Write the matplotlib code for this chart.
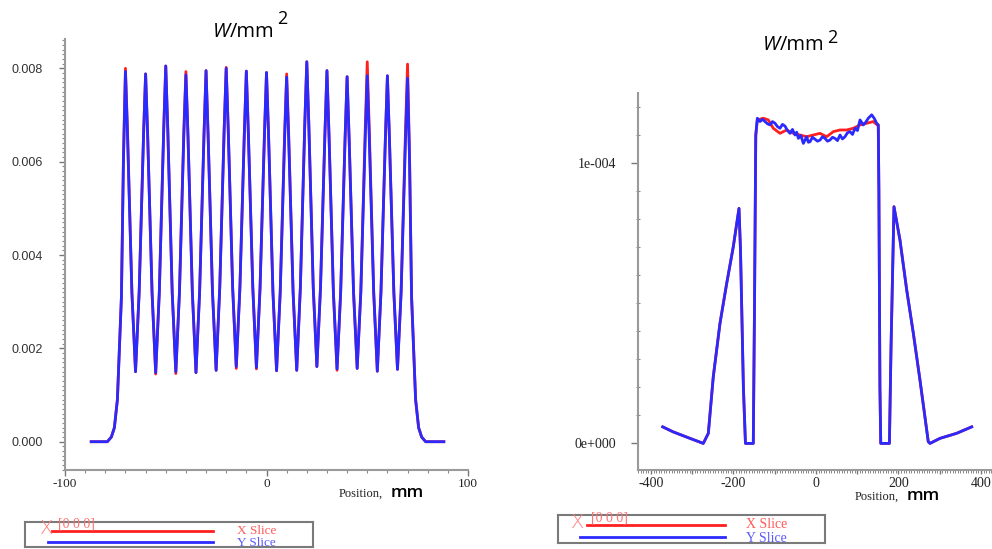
import matplotlib
matplotlib.use("Agg")
import matplotlib.pyplot as plt
from matplotlib.ticker import MultipleLocator, FixedLocator, FuncFormatter
from matplotlib.lines import Line2D

plt.rcParams['axes.unicode_minus'] = False

# ---------------- Left chart data (Position mm, W/mm^2) ----------------
left_x = [-87, -79, -77, -75.5, -74, -73, -72, -71,
          -70, -69, -66.8, -65, -63.2, -61,
          -60, -59, -56.8, -55, -53.2, -51,
          -50, -49, -46.8, -45, -43.2, -41,
          -40, -39, -36.8, -35, -33.2, -31,
          -30, -29, -26.8, -25, -23.2, -21,
          -20, -19, -16.8, -15, -13.2, -11,
          -10, -9, -6.8, -5, -3.2, -1,
          0, 1, 3.2, 5, 6.8, 9,
          10, 11, 13.2, 15, 16.8, 19,
          20, 21, 23.2, 25, 26.8, 29,
          30, 31, 33.2, 35, 36.8, 39,
          40, 41, 43.2, 45, 46.8, 49,
          50, 51, 53.2, 55, 56.8, 59,
          60, 61, 63.2, 65, 66.8, 69,
          70, 71, 72, 73, 74, 75.5, 77, 79, 88]

left_y_slice = [0, 0, 0.0001, 0.0003, 0.0009, 0.0020, 0.0031, 0.0060,
                0.00793, 0.0066, 0.0032, 0.00150, 0.0032, 0.0066,
                0.00788, 0.0066, 0.0032, 0.00148, 0.0032, 0.0067,
                0.00805, 0.0067, 0.0032, 0.00150, 0.0032, 0.0066,
                0.00786, 0.0066, 0.0032, 0.00148, 0.0032, 0.0066,
                0.00795, 0.0066, 0.0032, 0.00153, 0.0033, 0.0067,
                0.00800, 0.0067, 0.0033, 0.00161, 0.0033, 0.0066,
                0.00794, 0.0066, 0.0033, 0.00159, 0.0033, 0.0066,
                0.00791, 0.0066, 0.0032, 0.00152, 0.0032, 0.0065,
                0.00781, 0.0065, 0.0032, 0.00153, 0.0033, 0.0068,
                0.00814, 0.0068, 0.0033, 0.00161, 0.0033, 0.0066,
                0.00795, 0.0066, 0.0032, 0.00156, 0.0032, 0.0065,
                0.00782, 0.0065, 0.0032, 0.00157, 0.0032, 0.0065,
                0.00784, 0.0065, 0.0032, 0.00151, 0.0032, 0.0065,
                0.00784, 0.0065, 0.0032, 0.00155, 0.0032, 0.0065,
                0.00779, 0.0060, 0.0031, 0.0020, 0.0009, 0.0003, 0.0001, 0, 0]

left_x_slice = [0, 0, 0.0001, 0.0003, 0.0009, 0.0020, 0.0031, 0.0061,
                0.00800, 0.0067, 0.0032, 0.00150, 0.0032, 0.0066,
                0.00788, 0.0066, 0.0032, 0.00145, 0.0032, 0.0067,
                0.00805, 0.0067, 0.0032, 0.00146, 0.0032, 0.0067,
                0.00793, 0.0066, 0.0032, 0.00148, 0.0032, 0.0066,
                0.00795, 0.0066, 0.0032, 0.00153, 0.0033, 0.0067,
                0.00802, 0.0067, 0.0033, 0.00157, 0.0033, 0.0066,
                0.00794, 0.0066, 0.0033, 0.00156, 0.0033, 0.0066,
                0.00791, 0.0066, 0.0032, 0.00152, 0.0032, 0.0066,
                0.00788, 0.0066, 0.0032, 0.00153, 0.0033, 0.0068,
                0.00814, 0.0068, 0.0033, 0.00161, 0.0033, 0.0066,
                0.00795, 0.0066, 0.0032, 0.00153, 0.0032, 0.0065,
                0.00782, 0.0065, 0.0032, 0.00157, 0.0032, 0.0067,
                0.00814, 0.0067, 0.0032, 0.00151, 0.0032, 0.0065,
                0.00784, 0.0065, 0.0032, 0.00155, 0.0032, 0.0067,
                0.00809, 0.0061, 0.0031, 0.0020, 0.0009, 0.0003, 0.0001, 0, 0]

# ---------------- Right chart data (Position mm, W/mm^2) ----------------
right_outer_left_x = [-371.6, -346, -305.5, -273.2, -261, -249, -232.7, -216.5,
                      -200.5, -186.7, -183, -176, -171, -152, -149, -146]
right_outer_left_y = [5.9e-6, 4.1e-6, 1.8e-6, 0, 3.6e-6, 2.38e-5, 4.29e-5, 5.71e-5,
                      7.02e-5, 8.39e-5, 6.9e-5, 2.0e-5, 0, 0, 5.0e-5, 1.10e-4]

right_outer_right_x = [152.5, 155, 157, 178, 182, 189.1, 203.6, 219.9, 236,
                       252.1, 272.2, 276.4, 300.6, 341, 377.5]
right_outer_right_y = [9.0e-5, 2.0e-5, 0, 0, 3.5e-5, 8.45e-5, 7.26e-5, 5.48e-5, 3.93e-5,
                       2.26e-5, 0.6e-6, 0, 1.8e-6, 3.6e-6, 5.9e-6]

plateau_y_x = [-142.2, -135.8, -129.7, -123.6, -117.5, -111.5, -105.5, -99.4, -93.4,
               -87.3, -81.3, -75.2, -69.1, -63, -57, -50.9, -46.8, -42.8, -36.7,
               -30.7, -26.6, -22.6, -18.5, -14.5, -8.5, -2.4, 3.6, 9.7, 15.8, 21.8,
               27.8, 33.9, 40, 46.1, 52.1, 58.2, 64.2, 70.3, 76.3, 82.4, 88.5,
               94.5, 100.6, 106.7, 114.7, 120.8, 126.8, 135, 141, 147.1, 151]
plateau_y_y = [1.161e-4, 1.149e-4, 1.157e-4, 1.149e-4, 1.141e-4, 1.137e-4, 1.149e-4, 1.143e-4, 1.131e-4,
               1.125e-4, 1.139e-4, 1.133e-4, 1.117e-4, 1.107e-4, 1.121e-4, 1.101e-4, 1.111e-4, 1.089e-4, 1.099e-4,
               1.071e-4, 1.083e-4, 1.095e-4, 1.075e-4, 1.077e-4, 1.093e-4, 1.086e-4, 1.079e-4, 1.083e-4, 1.095e-4, 1.089e-4,
               1.079e-4, 1.083e-4, 1.093e-4, 1.089e-4, 1.081e-4, 1.101e-4, 1.087e-4, 1.095e-4, 1.109e-4, 1.113e-4, 1.103e-4,
               1.125e-4, 1.117e-4, 1.155e-4, 1.137e-4, 1.147e-4, 1.161e-4, 1.173e-4, 1.161e-4, 1.143e-4, 1.137e-4]

plateau_x_x = [-142.2, -127.7, -115.6, -103.5, -87.3, -71.1, -55, -38.8, -22.6, -6.5,
               9.7, 25.9, 42, 58.2, 74.3, 90.5, 106.7, 122.8, 139, 148.6, 151]
plateau_x_y = [1.155e-4, 1.161e-4, 1.155e-4, 1.125e-4, 1.107e-4, 1.119e-4, 1.107e-4, 1.101e-4, 1.095e-4, 1.101e-4,
               1.107e-4, 1.095e-4, 1.113e-4, 1.119e-4, 1.119e-4, 1.125e-4, 1.137e-4, 1.143e-4, 1.149e-4, 1.137e-4, 1.137e-4]

RED = '#ff1f1f'
BLUE = '#2a2aff'
SPINE = '#9a9a9a'

W, H = 992, 549
fig = plt.figure(figsize=(W / 100, H / 100), dpi=100)


def fx(x):
    return x / W


def fy(y):
    return 1 - y / H


# ---------------- Left axes ----------------
axL = fig.add_axes([fx(65), fy(470), (468 - 65) / W, (470 - 39) / H])
axL.plot(left_x, left_x_slice, color=RED, lw=2.0, solid_joinstyle='round')
axL.plot(left_x, left_y_slice, color=BLUE, lw=2.0, solid_joinstyle='round')
axL.set_xlim(-100, 100)
axL.set_ylim(-0.000606, 0.008628)
axL.xaxis.set_major_locator(FixedLocator([-100, 0, 100]))
axL.xaxis.set_minor_locator(MultipleLocator(10))
axL.yaxis.set_major_locator(FixedLocator([0, 0.002, 0.004, 0.006, 0.008]))
axL.yaxis.set_minor_locator(MultipleLocator(0.0001))
axL.yaxis.set_major_formatter(FuncFormatter(lambda v, p: f"{v:.3f}"))
axL.xaxis.set_major_formatter(FuncFormatter(lambda v, p: f"{v:.0f}"))
axL.tick_params(axis='y', which='major', direction='out', length=4.5, width=1,
                color='#777777', pad=11.5, labelsize=9, labelcolor='#333333')
axL.tick_params(axis='y', which='minor', direction='out', length=2.3, width=0.8, color='#888888')
axL.tick_params(axis='x', which='major', direction='out', length=4, width=1,
                color='#777777', pad=1.5, labelsize=9.5, labelcolor='#222222')
axL.tick_params(axis='x', which='minor', direction='out', length=2.5, width=0.8, color='#888888')
for lab in axL.get_yticklabels():
    lab.set_fontfamily('Liberation Sans')
for lab in axL.get_xticklabels():
    lab.set_fontfamily('Liberation Serif')
for s in ['top', 'right']:
    axL.spines[s].set_visible(False)
for s in ['left', 'bottom']:
    axL.spines[s].set_color(SPINE)
    axL.spines[s].set_linewidth(1.5)

# ---------------- Right axes ----------------
axR = fig.add_axes([fx(638), fy(470), (992 - 638) / W, (470 - 93) / H])
axR.plot(right_outer_left_x + plateau_x_x + right_outer_right_x,
         right_outer_left_y + plateau_x_y + right_outer_right_y,
         color=RED, lw=2.0, solid_joinstyle='round')
axR.plot(right_outer_left_x + plateau_y_x + right_outer_right_x,
         right_outer_left_y + plateau_y_y + right_outer_right_y,
         color=BLUE, lw=2.0, solid_joinstyle='round')
axR.set_xlim(-431.5, 426.7)
axR.set_ylim(-9.5e-6, 1.251e-4)
axR.xaxis.set_major_locator(MultipleLocator(100))
axR.xaxis.set_minor_locator(MultipleLocator(6.25))
axR.xaxis.set_major_formatter(FuncFormatter(lambda v, p: f"{v:.0f}" if round(v) % 200 == 0 else ""))
axR.yaxis.set_major_locator(FixedLocator([0, 1e-4]))
axR.yaxis.set_minor_locator(MultipleLocator(1e-5))
axR.yaxis.set_major_formatter(FuncFormatter(lambda v, p: "0e+000" if abs(v) < 1e-9 else "1e-004"))
axR.tick_params(axis='y', which='major', direction='out', length=5, width=1,
                color='#777777', pad=11, labelsize=10, labelcolor='#222222')
axR.tick_params(axis='y', which='minor', direction='inout', length=3, width=0.8, color='#888888')
axR.tick_params(axis='x', which='major', direction='out', length=3.2, width=1,
                color='#777777', pad=1.5, labelsize=10, labelcolor='#222222')
axR.tick_params(axis='x', which='minor', direction='out', length=1.8, width=0.7, color='#888888')
for lab in axR.get_yticklabels() + axR.get_xticklabels():
    lab.set_fontfamily('Liberation Serif')
for s in ['top', 'right']:
    axR.spines[s].set_visible(False)
for s in ['left', 'bottom']:
    axR.spines[s].set_color(SPINE)
    axR.spines[s].set_linewidth(1.5)

# ---------------- Titles and axis labels ----------------
renderer = fig.canvas.get_renderer()


def title_w(x0, base, sup_top):
    t1 = fig.text(fx(x0), fy(base), "W", fontfamily='Open Sans', style='italic',
                  fontsize=14.5, va='baseline', ha='left', color='black')
    bb = t1.get_window_extent(renderer)
    t2 = fig.text(bb.x1 / W, fy(base), "/mm", fontfamily='Open Sans',
                  fontsize=14.5, va='baseline', ha='left', color='black')
    bb2 = t2.get_window_extent(renderer)
    fig.text(bb2.x1 / W + 2 / W, fy(sup_top), "2", fontfamily='Open Sans',
             fontsize=13, va='top', ha='left', color='black')


title_w(213, 37, 10.5)
title_w(763, 50.5, 29)


def xlabel(x0, base):
    t = fig.text(fx(x0), fy(base), "Position,", fontfamily='Liberation Serif',
                 fontsize=9, va='baseline', ha='left', color='#222222')
    bb = t.get_window_extent(renderer)
    fig.text(bb.x1 / W + 7 / W, fy(base), "mm", fontfamily='Open Sans',
             fontweight='semibold', fontsize=12.5, va='baseline', ha='left', color='black')


xlabel(339, 497)
xlabel(855, 500)


# ---------------- Legend boxes ----------------
def legend_box(x0, x1, y0, y1, rl, bl, lx1, ry, by, tx, cross_x, cross_base, br_x, br_base, fs):
    lg = fig.add_axes([fx(x0), fy(y1), (x1 - x0) / W, (y1 - y0) / H])
    lg.set_xlim(x0, x1)
    lg.set_ylim(y1, y0)
    lg.set_xticks([])
    lg.set_yticks([])
    for s in lg.spines.values():
        s.set_color('#7a7a7a')
        s.set_linewidth(1.5)
    lg.patch.set_alpha(0)
    lg.add_line(Line2D([rl, lx1], [ry, ry], color=RED, lw=2.0))
    lg.add_line(Line2D([bl, lx1], [by, by], color=BLUE, lw=2.0))
    lg.text(tx, ry, "X Slice", color='#ff5a5a', fontfamily='Liberation Serif',
            fontsize=fs, va='center', ha='left', clip_on=False)
    lg.text(tx, by + 1, "Y Slice", color='#5a5aff', fontfamily='Liberation Serif',
            fontsize=fs, va='center', ha='left', clip_on=False)
    fig.text(fx(cross_x), fy(cross_base), "X", color='#ff8080', fontfamily='DejaVu Sans',
             fontweight='light', fontsize=14, va='baseline', ha='left')
    fig.text(fx(br_x), fy(br_base), "[0 0 0]", color='#ff7070', fontfamily='Liberation Serif',
             fontsize=10, va='baseline', ha='left')


legend_box(25, 313, 521.7, 546.7, 52, 48, 213, 530.7, 542, 237, 40, 534, 58, 528, 9.5)
legend_box(558, 825, 515, 543, 587, 580, 725, 525, 537, 746, 571, 528, 591, 521.5, 10)

fig.savefig("out.png", dpi=100)
